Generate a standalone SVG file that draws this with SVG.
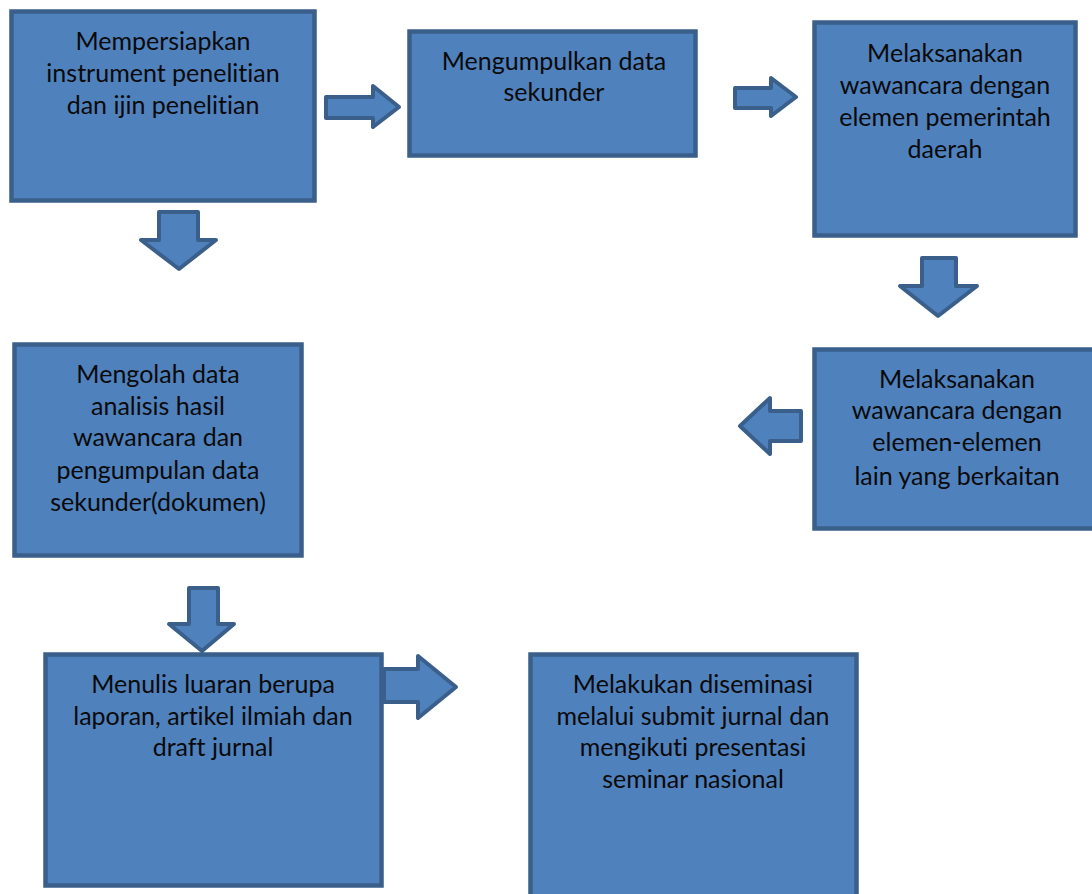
<svg xmlns="http://www.w3.org/2000/svg" width="1092" height="894" viewBox="0 0 1092 894">
<style>
.box{fill:#4F81BD;stroke:#3A5F8B;stroke-width:4.5}
.arr{fill:#4F81BD;stroke:#3A5F8B;stroke-width:4;stroke-linejoin:round}
text{font-family:Lato,"Open Sans",sans-serif;font-size:25px;fill:#0a0a0a;text-anchor:middle;font-variant-ligatures:none}
</style>
<rect width="1092" height="894" fill="#fff"/>
<g id="node1">
<rect class="box" x="11.5" y="11.5" width="303" height="189"/>
<text x="163" y="50">Mempersiapkan</text>
<text x="163" y="82">instrument penelitian</text>
<text x="163" y="114">dan ijin penelitian</text>
</g>
<g id="node2">
<rect class="box" x="409.5" y="31.5" width="286" height="124"/>
<text x="554" y="70">Mengumpulkan data</text>
<text x="554" y="101">sekunder</text>
</g>
<g id="node3">
<rect class="box" x="814.5" y="22.5" width="261" height="213"/>
<text x="945" y="62">Melaksanakan</text>
<text x="945" y="94">wawancara dengan</text>
<text x="945" y="126">elemen pemerintah</text>
<text x="945" y="158">daerah</text>
</g>
<g id="node4">
<rect class="box" x="814.5" y="349.5" width="285" height="179"/>
<text x="957" y="388">Melaksanakan</text>
<text x="957" y="419">wawancara dengan</text>
<text x="957" y="451">elemen-elemen</text>
<text x="957" y="485">lain yang berkaitan</text>
</g>
<g id="node5">
<rect class="box" x="14.5" y="344.5" width="287" height="211"/>
<text x="158" y="383">Mengolah data</text>
<text x="158" y="415">analisis hasil</text>
<text x="158" y="446">wawancara dan</text>
<text x="158" y="479">pengumpulan data</text>
<text x="158" y="511">sekunder(dokumen)</text>
</g>
<g id="node6">
<rect class="box" x="45.5" y="654.5" width="336" height="231"/>
<text x="213" y="693">Menulis luaran berupa</text>
<text x="213" y="725">laporan, artikel ilmiah dan</text>
<text x="213" y="756">draft jurnal</text>
</g>
<g id="node7">
<rect class="box" x="530.5" y="654.5" width="326" height="250"/>
<text x="693" y="693">Melakukan diseminasi</text>
<text x="693" y="725">melalui submit jurnal dan</text>
<text x="693" y="756">mengikuti presentasi</text>
<text x="693" y="788">seminar nasional</text>
</g>
<g id="connectors">
<polygon class="arr" points="326,97 373,97 373,86 399,107 373,127 373,118 326,118"/>
<polygon class="arr" points="735,88 771,88 771,78 796,97 771,116 771,108 735,108"/>
<polygon class="arr" points="159,212 198,212 198,240 216,240 179,269 141,240 159,240"/>
<polygon class="arr" points="922,258 956,258 956,286 977,286 938,316 900,286 922,286"/>
<polygon class="arr" points="801,411 801,441 770,441 770,454 740,426 770,398 770,411"/>
<polygon class="arr" points="189,588 218,588 218,624 234,624 202,651 169,624 189,624"/>
<polygon class="arr" points="384,669 418,669 418,656 456,687 418,718 418,702 384,702"/>
</g>
</svg>
